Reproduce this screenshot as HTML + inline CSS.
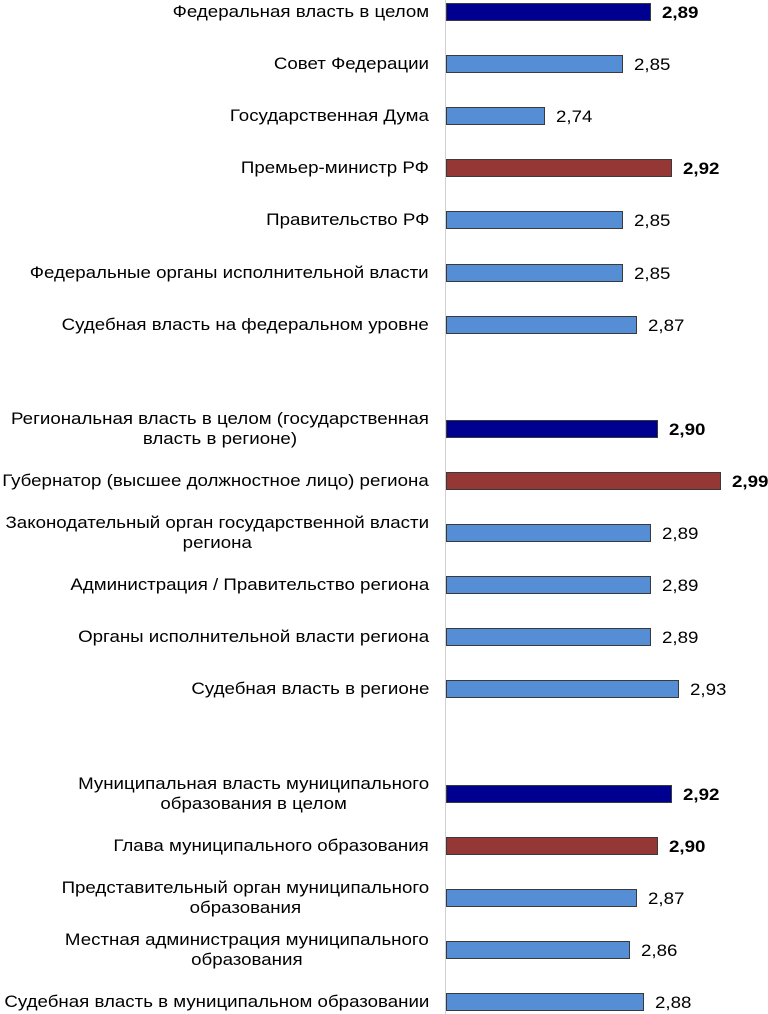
<!DOCTYPE html>
<html><head><meta charset="utf-8"><style>
body{margin:0;width:768px;height:1014px;background:#fff;position:relative;overflow:hidden;font-family:"Liberation Sans",Arial,sans-serif;}
.lbl{position:absolute;right:339px;text-align:center;font-size:17px;line-height:20px;color:#000;white-space:nowrap;transform:scaleX(1.1);transform-origin:right center;}
.bar{position:absolute;height:18px;box-sizing:border-box;border:1.5px solid #3a3a3a;}
.val{position:absolute;font-size:17px;line-height:20px;color:#000;transform:scaleX(1.1);transform-origin:left center;}
#axis{position:absolute;left:445px;top:0;width:1px;height:1014px;background:#d0d0d0;}
</style></head><body>
<div id="axis"></div>
<script>
const categories=[
"Федеральная власть в целом","Совет Федерации","Государственная Дума","Премьер-министр РФ","Правительство РФ","Федеральные органы исполнительной власти","Судебная власть на федеральном уровне",
"Региональная власть в целом (государственная<br>власть в регионе)","Губернатор (высшее должностное лицо) региона","Законодательный орган государственной власти<br>региона","Администрация / Правительство региона","Органы исполнительной власти региона","Судебная власть в регионе",
"Муниципальная власть муниципального<br>образования в целом","Глава муниципального образования","Представительный орган муниципального<br>образования","Местная администрация муниципального<br>образования","Судебная власть в муниципальном образовании"];
const values=[2.89,2.85,2.74,2.92,2.85,2.85,2.87,2.90,2.99,2.89,2.89,2.89,2.93,2.92,2.90,2.87,2.86,2.88];
const kinds=["total","item","item","head","item","item","item","total","head","item","item","item","item","total","head","item","item","item"];
const slots=[0,1,2,3,4,5,6,8,9,10,11,12,13,15,16,17,18,19];
const xMin=2.6,x0=446,pxPerUnit=706;
const xs=v=>x0+(v-xMin)*pxPerUnit;
const ys=s=>12+s*52.1;
const colors={total:"#000090",head:"#953735",item:"#558ED5"};
categories.forEach((c,i)=>{
  const cy=ys(slots[i]);
  const l=document.createElement('div');
  l.className='lbl';
  
  
  l.innerHTML=c;
  const lines=c.split('<br>').length;
  l.style.top=(lines>1?cy-20:cy-10)+'px';
  document.body.appendChild(l);
  const b=document.createElement('div');
  b.className='bar';
  
  
  b.style.left=x0+'px';b.style.top=(cy-9)+'px';
  b.style.width=(xs(values[i])-x0)+'px';
  b.style.background=colors[kinds[i]];
  document.body.appendChild(b);
  const v=document.createElement('div');
  v.className='val';
  
  
  v.textContent=values[i].toFixed(2).replace('.',',');
  v.style.left=(xs(values[i])+11)+'px';v.style.top=(cy-9)+'px';
  if(kinds[i]!=='item') v.style.fontWeight='bold';
  document.body.appendChild(v);
});
</script>
</body></html>
